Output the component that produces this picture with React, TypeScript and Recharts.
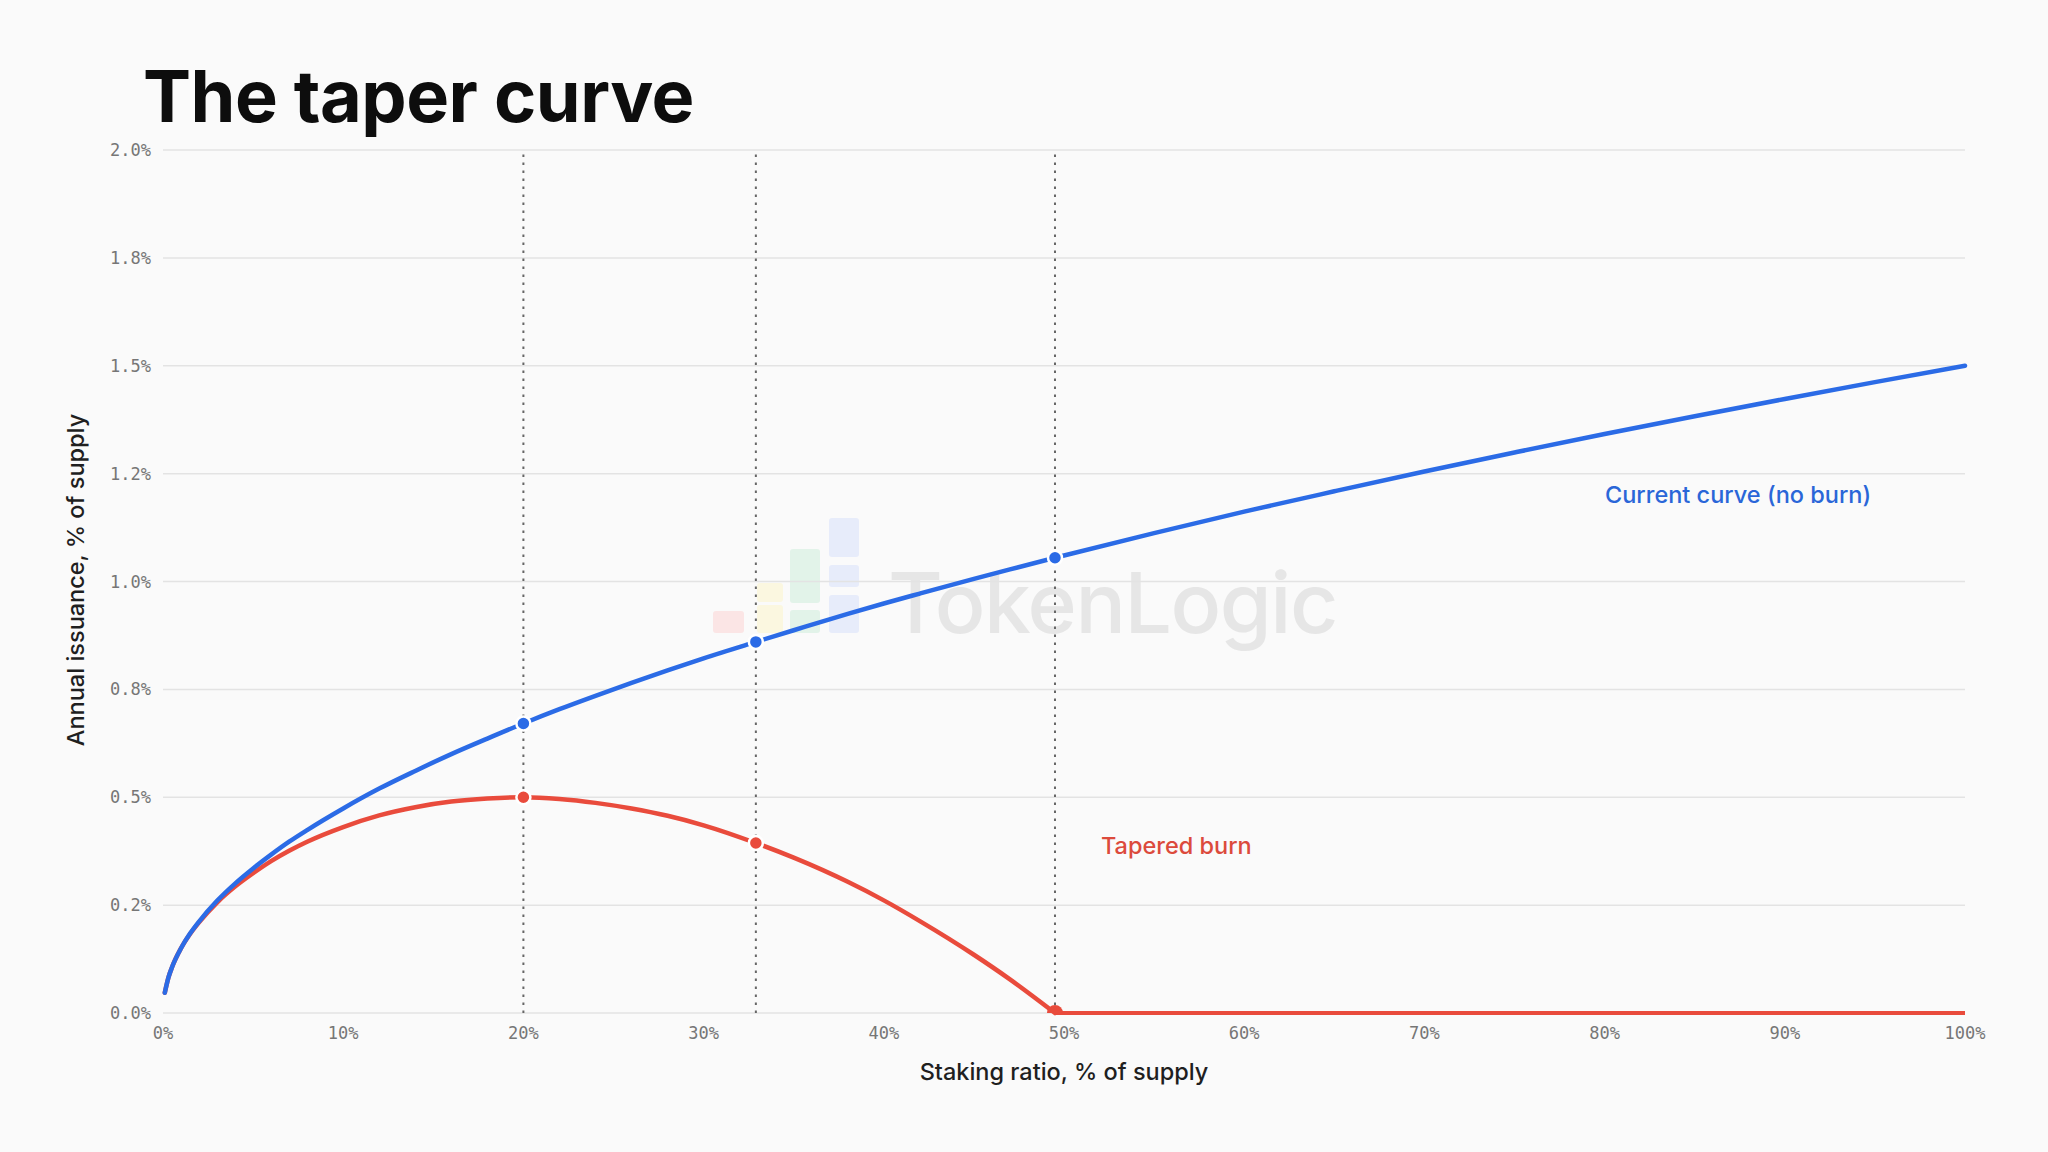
import React from 'react';
import { LineChart, Line, XAxis, YAxis, CartesianGrid, ReferenceLine } from 'recharts';

// staking ratio (% of supply) and annual issuance (% of supply)
const stakingRatio = [
  0.1, 0.3, 0.5, 1, 1.5, 2, 3, 4, 5, 6, 7, 8, 10, 12, 14, 16, 18, 20, 22, 24, 26, 28, 30, 32.9, 35, 38, 40,
  42, 45, 47, 49.5, 55, 60, 65, 70, 75, 80, 85, 90, 95, 100,
];
const currentCurve = [
  0.047, 0.082, 0.106, 0.15, 0.184, 0.212, 0.26, 0.3, 0.335, 0.367, 0.397, 0.424, 0.474, 0.52, 0.561, 0.6,
  0.636, 0.671, 0.704, 0.735, 0.765, 0.794, 0.822, 0.86, 0.887, 0.925, 0.949, 0.972, 1.006, 1.028, 1.055,
  1.112, 1.162, 1.209, 1.255, 1.299, 1.342, 1.383, 1.423, 1.462, 1.5,
];
const taperedBurn = [
  0.047, 0.082, 0.106, 0.15, 0.183, 0.21, 0.256, 0.293, 0.324, 0.352, 0.376, 0.397, 0.431, 0.458, 0.477, 0.49,
  0.497, 0.5, 0.496, 0.487, 0.474, 0.457, 0.435, 0.394, 0.36, 0.304, 0.261, 0.213, 0.135, 0.078, 0,
  0, 0, 0, 0, 0, 0, 0, 0, 0, 0,
];

const markerXs = [20, 32.9, 49.5];
const burnEndsAt = 49.5;

const xTicks = [0, 10, 20, 30, 40, 50, 60, 70, 80, 90, 100];
const yTicks = [0, 0.25, 0.5, 0.75, 1, 1.25, 1.5, 1.75, 2];
const yTickLabels = ['0.0%', '0.2%', '0.5%', '0.8%', '1.0%', '1.2%', '1.5%', '1.8%', '2.0%'];

const rows = stakingRatio.map((x, i) => ({
  x,
  current: currentCurve[i],
  tapered: x <= burnEndsAt ? taperedBurn[i] : null,
  taperedFlat: x >= burnEndsAt ? taperedBurn[i] : null,
}));

const BLUE = '#2b6be6';
const RED = '#e94b3c';
const tickStyle = { fontSize: 17, fill: '#767676', fontFamily: '"DejaVu Sans Mono", monospace' };

const makeDot = (color: string) => (props: any) => {
  const { cx, cy, payload, index, value } = props;
  if (cx == null || cy == null || !markerXs.includes(payload.x)) return <g key={`no-${index}`} />;
  if (value === 0) {
    // sits on the bottom edge, only the top half shows
    return (
      <path
        key={`dot-${index}`}
        d={`M${cx - 8},${cy} A8,8 0 0 1 ${cx + 8},${cy} Z`}
        fill={color}
      />
    );
  }
  return <circle key={`dot-${index}`} cx={cx} cy={cy} r={7} fill={color} stroke="#fff" strokeWidth={2.5} />;
};

function Watermark() {
  return (
    <svg width={2048} height={1152} style={{ position: 'absolute', left: 0, top: 0 }}>
      <rect x={713} y={611} width={31} height={22} rx={3} fill="#fbe5e5" />
      <rect x={757} y={583} width={26} height={19} rx={3} fill="#fbf7e0" />
      <rect x={757} y={605} width={26} height={28} rx={3} fill="#fbf7e0" />
      <rect x={790} y={549} width={30} height={54} rx={3} fill="#e2f3e9" />
      <rect x={790} y={610} width={30} height={23} rx={3} fill="#e2f3e9" />
      <rect x={829} y={518} width={30} height={39} rx={3} fill="#e7ecfa" />
      <rect x={829} y={565} width={30} height={22} rx={3} fill="#e7ecfa" />
      <rect x={829} y={595} width={30} height={38} rx={3} fill="#e7ecfa" />
      <text x={888} y={633} fontFamily="Inter, sans-serif" fontWeight={500} fontSize={84} fill="#e6e6e6" letterSpacing={-1.5}>
        TokenLogic
      </text>
    </svg>
  );
}

function Labels() {
  const font = 'Inter, sans-serif';
  return (
    <svg width={2048} height={1152} style={{ position: 'absolute', left: 0, top: 0, pointerEvents: 'none' }}>
      <text x={143} y={122} fontFamily={font} fontWeight={700} fontSize={72} fill="#0d0d0d" letterSpacing={-0.5}>
        The taper curve
      </text>
      <text
        x={0}
        y={0}
        transform="translate(84,580) rotate(-90)"
        textAnchor="middle"
        fontFamily={font}
        fontWeight={500}
        fontSize={23.5}
        fill="#1f1f1f"
      >
        Annual issuance, % of supply
      </text>
      <text x={1064} y={1080} textAnchor="middle" fontFamily={font} fontWeight={500} fontSize={23.5} fill="#1f1f1f">
        Staking ratio, % of supply
      </text>
      <text x={1605} y={503} fontFamily={font} fontWeight={500} fontSize={23.5} fill="#2a66d8">
        Current curve (no burn)
      </text>
      <text x={1101} y={854} fontFamily={font} fontWeight={500} fontSize={23.5} fill="#dc4a3c">
        Tapered burn
      </text>
    </svg>
  );
}

export default function App() {
  return (
    <div style={{ position: 'absolute', left: 0, top: 0, width: 2048, height: 1152, background: '#fafafa', overflow: 'hidden' }}>
      <Watermark />
      <div style={{ position: 'absolute', left: 0, top: 0 }}>
        <LineChart width={2048} height={1152} data={rows} margin={{ top: 150, right: 83, bottom: 99, left: 0 }}>
          <CartesianGrid vertical={false} stroke="#e3e3e3" strokeWidth={1.5} />
          <XAxis
            dataKey="x"
            type="number"
            domain={[0, 100]}
            ticks={xTicks}
            tickFormatter={(v: number) => `${v}%`}
            tick={tickStyle}
            tickLine={false}
            axisLine={false}
            tickMargin={8}
            height={40}
          />
          <YAxis
            type="number"
            domain={[0, 2]}
            ticks={yTicks}
            tickFormatter={(_v: number, i: number) => yTickLabels[i]}
            tick={tickStyle}
            tickLine={false}
            axisLine={false}
            tickMargin={6}
            width={163}
          />
          {markerXs.map((m) => (
            <ReferenceLine key={m} x={m} stroke="#666" strokeWidth={2} strokeDasharray="2.5 5.5" />
          ))}
          <Line
            dataKey="taperedFlat"
            type="linear"
            stroke={RED}
            strokeWidth={4}
            dot={false}
            activeDot={false}
            isAnimationActive={false}
          />
          <Line
            dataKey="tapered"
            type="monotone"
            stroke={RED}
            strokeWidth={4.5}
            strokeLinecap="round"
            dot={makeDot(RED)}
            activeDot={false}
            isAnimationActive={false}
          />
          <Line
            dataKey="current"
            type="monotone"
            stroke={BLUE}
            strokeWidth={4.5}
            strokeLinecap="round"
            dot={makeDot(BLUE)}
            activeDot={false}
            isAnimationActive={false}
          />
        </LineChart>
      </div>
      <Labels />
    </div>
  );
}
